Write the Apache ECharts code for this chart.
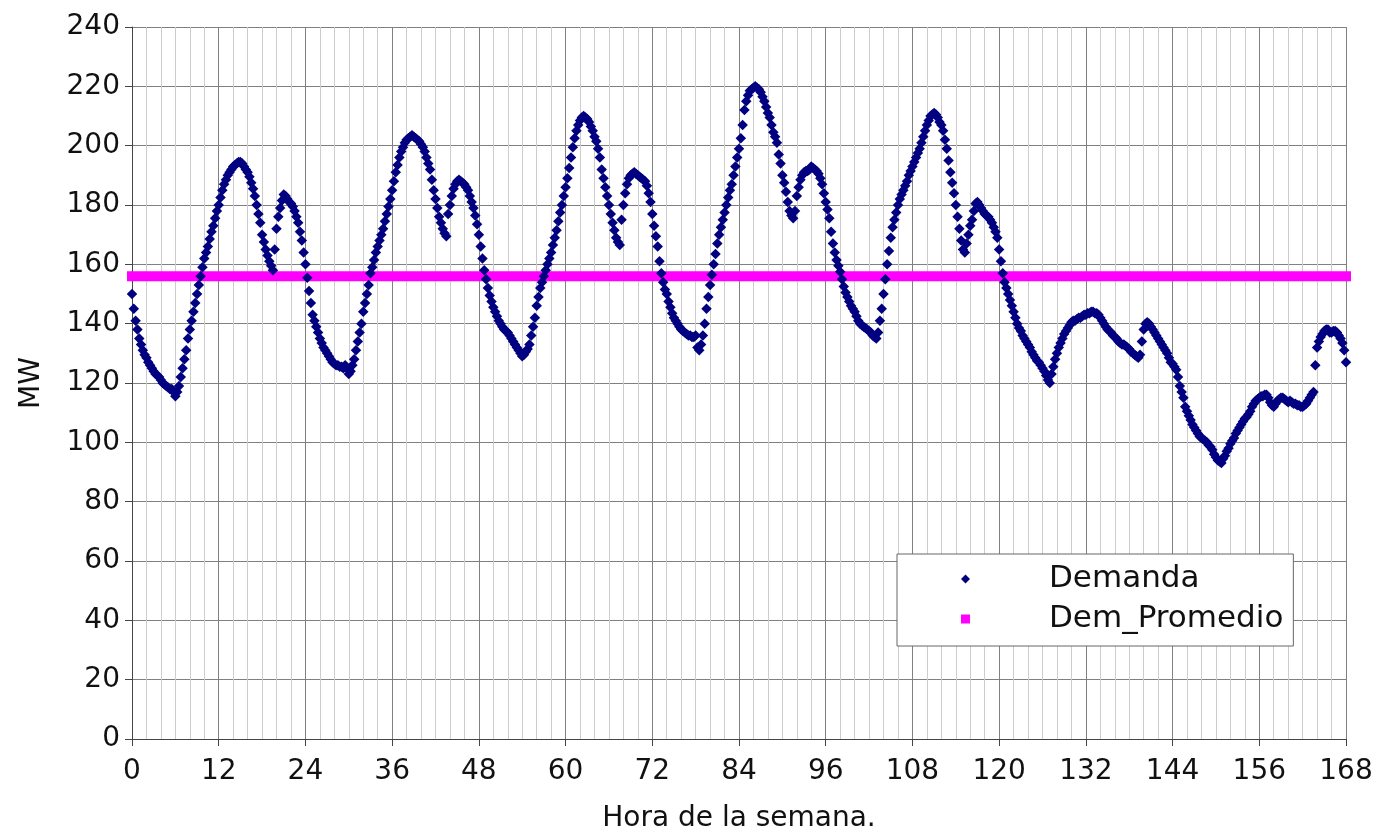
<!DOCTYPE html>
<html>
<head>
<meta charset="utf-8">
<script src="https://cdn.jsdelivr.net/npm/echarts@6/dist/echarts.min.js"></script>
<style>
html,body{margin:0;padding:0;background:#fff;}
#chart{width:1383px;height:838px;}
</style>
</head>
<body>
<div id="chart"></div>
<script>
// Demanda cada 15 minutos (MW), por día de la semana
const PASO_HORAS = 0.25;
const dia1 = [150,145,141,138, 135,133,131,129.5, 128.5,127,126,125, 124,123,122.5,122, 121,120,119.5,119, 118.5,118,118,117,
  115.5,117,119,122, 125,128,131,135, 138,141,144,147, 150,153,156,159, 162,164,166,168.5, 171,173,175.5,178,
  180,182.5,185,187, 188.5,190,191,192, 193,193.5,194,194.5, 194.5,194,193,192, 191,189.5,187.5,185.5, 183,180,177,174,
  170,167.5,165,163, 161,159.5,158,165, 172,176,179,181.5, 183.5,183,182,181, 180.5,179.5,178,176, 174,171,168,164];
const dia2 = [160,155.5,151,147, 143,141,139,137, 135,133.5,132,131, 130,129,128,127, 126.5,126,126,125.5, 125.5,125,126,125,
  123,124,126,128, 131,134,137,140, 144,147,150,153, 157,159,161.5,164, 166,168,170,172, 174.5,177,179.5,182,
  185,188,191,193.5, 196,198,199.5,201, 202,202.5,203,203.5, 203,202.5,202,201.5, 200.5,199.5,198,196, 194,192,188.5,185,
  182,179,176,174, 172,170.5,169.5,177, 180,183,185.5,187, 188,188.5,188,187.5, 187,186,185,183, 181,179,176.5,173.5];
const dia3 = [170,166,162,158, 155,152,149.5,147.5, 145.5,144,142.5,141, 140,139,138,137.5, 137,136,135,134, 133,132,131,130,
  129,129.5,130.5,131.5, 133,136,139,142, 146,149,152,154, 156,158,160,162, 164,166.5,169,171.5, 174.5,177.5,180,183,
  186,189,192.5,196, 199.5,202.5,205,207, 208.5,209.5,210,209.5, 209,208,206.5,205, 203,201.5,199,196, 192,189,186,183,
  180,177,174,171.5, 169,167.5,166.5,175, 180,184,187,189, 190,190.5,191,190.5, 190,189.5,189,188.5, 188,186.5,184,181];
const dia4 = [177,173,169.5,166, 161,157,154,151.5, 150,147.5,145.5,143.5, 142,141,140,139, 138,137.5,137,136.5, 136,136,135.5,135.5,
  136,132,131,133, 136,140,145,149, 153,156.5,160,163.5, 167,170,172.5,175, 177.5,180,182.5,185, 187,190,193,196,
  199,202.5,207,212, 215,217,218.5,219, 219.5,220,219.5,219, 218,216.5,215,213, 211,209.5,207,204.5, 203,201,197,194,
  190,187.5,184.5,181, 178,176.5,175.5,178, 183,186,188.5,190, 191,191.5,191.5,192, 193,192.5,192,191.5, 190.5,189,187,184];
const dia5 = [181,178.5,175.5,171, 167,164,161.5,159.5, 157.5,155,152.5,150.5, 149,147.5,146,145, 144,142.5,141,140, 139.5,139,138.5,138,
  137.5,137,136,135.5, 135,137,141,145, 150,155,160,164.5, 169,172.5,175,177.5, 180,182,183.5,185, 186.5,188,190,191.5,
  193,194.5,196,197.5, 199,201,203,205, 207,208.5,210,210.5, 211,210.5,209.5,208, 207,205,202,199, 195,191,187.5,184,
  180,176,172,168, 165,164,167,170, 173,175,178,180.5, 181,180,179,178, 177,176.5,176,175, 174,172.5,171,169];
const dia6 = [165,161,157,154, 152,150,148,146, 144,142,140,138.5, 137.5,136,135,134, 133,132,130.5,129.5, 128.5,127.5,127,126,
  125,124,122.5,121, 120,123,125.5,128, 130,132,133.5,135, 136.5,137.5,138.5,139.5, 140.5,141,141,141.5, 142,142,142.5,143,
  143,143.5,143.5,144, 144,143.5,143.5,143, 142,141,140,139, 138,137.5,137,136, 135.5,135,134,133.5, 133,133,132.5,132,
  131.5,130.5,130,129.5, 129,128.5,129.5,134, 138,140,140.5,140, 139,138,137,136, 135,134,133,132, 131,130,128.5,127];
const dia7 = [126.5,125.5,124.5,122, 119,117,115,112, 110.5,109,107.5,106, 105,104,103,102, 101.5,101,100.5,100, 99,98.5,97.5,96,
  95,94,93.5,93, 94.5,95.5,97,98, 99.5,100.5,101.5,103, 104,105,106,107, 108,108.5,109.5,110.5, 112,113,114,114.5,
  115,115.5,115.5,116, 116,115,113.5,112.5, 112,113,114,114.5, 115,115,114.5,114, 113.5,114,113.5,113, 113,112.5,112.5,112,
  112,112.5,113,114, 115,116,117,126, 132,134,135.5,136.5, 137.5,138,138,137, 137,137.5,137.5,137, 136,135,133.5,131,
  127];
const demanda = [].concat(dia1, dia2, dia3, dia4, dia5, dia6, dia7);
const demPromedio = 156;
const horaMin = 0, horaMax = 168, horaPaso = 12;
const mwMin = 0, mwMax = 240, mwPaso = 20;
const nombres = ['Demanda', 'Dem_Promedio'];

const puntosDemanda = demanda.map((v, i) => [i * PASO_HORAS, v]);
const lineaPromedio = [[horaMin, demPromedio], [horaMax, demPromedio]];

const FONT = 'DejaVu Sans';
const chart = echarts.init(document.getElementById('chart'), null, {renderer: 'canvas'});
chart.setOption({
  animation: false,
  backgroundColor: '#ffffff',
  grid: {left: 132, right: 37, top: 27, bottom: 93, containLabel: false},
  legend: {
    orient: 'vertical',
    left: 897, top: 554,
    backgroundColor: '#ffffff',
    borderColor: '#666666', borderWidth: 1,
    padding: [7, 10, 9, 64],
    itemWidth: 9, itemHeight: 9, itemGap: 4,
    textStyle: {fontFamily: FONT, fontSize: 31, color: '#111', lineHeight: 36, padding: [0, 0, 0, 74]},
    data: [{name: nombres[0], icon: 'diamond'}, {name: nombres[1], icon: 'rect'}]
  },
  xAxis: {
    type: 'value', min: horaMin, max: horaMax, interval: horaPaso,
    name: 'Hora de la semana.', nameLocation: 'middle', nameGap: 66,
    nameTextStyle: {fontFamily: FONT, fontSize: 28, color: '#111'},
    axisLine: {show: true, lineStyle: {color: '#444', width: 1}},
    axisTick: {show: true, length: 7, lineStyle: {color: '#444'}},
    axisLabel: {fontFamily: FONT, fontSize: 28, color: '#111', margin: 19},
    splitLine: {show: true, lineStyle: {color: '#808080', width: 1}},
    minorTick: {show: false, splitNumber: 6},
    minorSplitLine: {show: true, lineStyle: {color: '#cccccc', width: 1}}
  },
  yAxis: {
    type: 'value', min: mwMin, max: mwMax, interval: mwPaso,
    name: 'MW', nameLocation: 'middle', nameGap: 86,
    nameTextStyle: {fontFamily: FONT, fontSize: 28, color: '#111'},
    axisLine: {show: true, lineStyle: {color: '#444', width: 1}},
    axisTick: {show: true, length: 7, lineStyle: {color: '#444'}},
    axisLabel: {fontFamily: FONT, fontSize: 28, color: '#111', margin: 12},
    splitLine: {show: true, lineStyle: {color: '#808080', width: 1}}
  },
  series: [
    {
      name: nombres[0], type: 'scatter', data: puntosDemanda,
      symbol: 'diamond', symbolSize: 10.5, z: 3,
      itemStyle: {color: '#000080', opacity: 1}
    },
    {
      name: nombres[1], type: 'line', data: lineaPromedio,
      symbol: 'none', z: 2,
      itemStyle: {color: '#ff00ff'},
      lineStyle: {color: '#ff00ff', width: 10, cap: 'square'}
    }
  ]
});
</script>
</body>
</html>
